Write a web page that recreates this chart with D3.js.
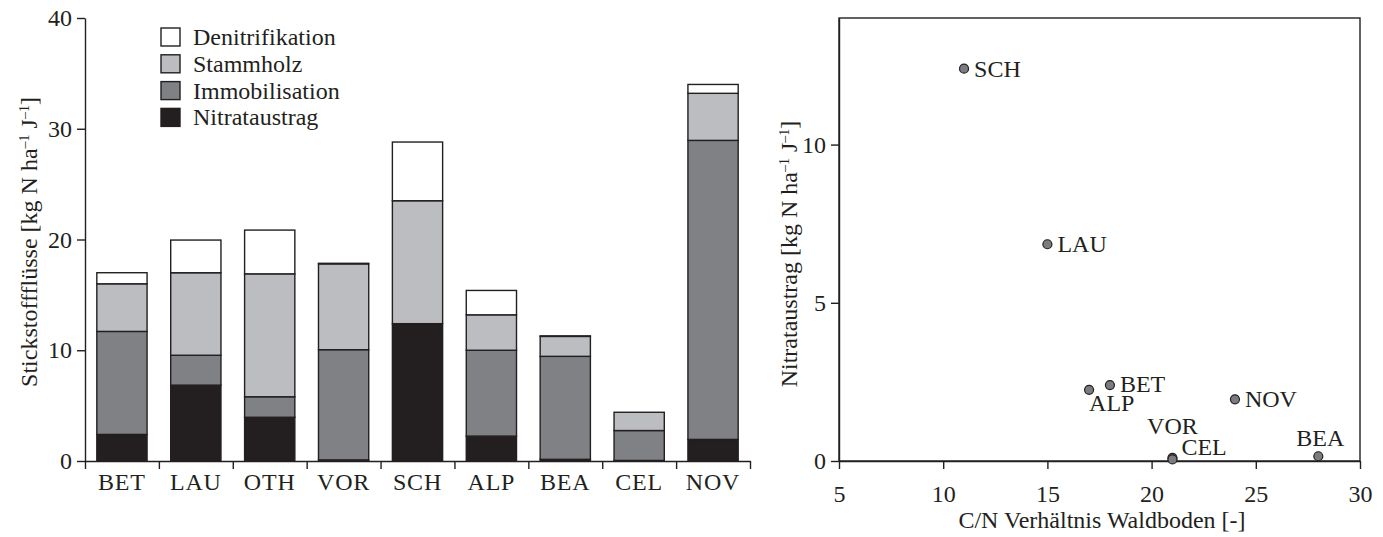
<!DOCTYPE html>
<html>
<head>
<meta charset="utf-8">
<script src="https://cdn.jsdelivr.net/npm/d3@7/dist/d3.min.js"></script>
<style>
  body { margin: 0; background: #fff; }
  svg text { font-family: "Liberation Serif", "Times New Roman", serif; fill: #231f20; }
</style>
</head>
<body>
<div id="chart"></div>
<script>
// sites (same order in both panels)
const sites = ["BET", "LAU", "OTH", "VOR", "SCH", "ALP", "BEA", "CEL", "NOV"];

// nitrogen fluxes [kg N ha-1 J-1], stacked bottom -> top
const nitrataustrag   = [2.4, 6.85, 3.95, 0.1, 12.4, 2.25, 0.15, 0.05, 1.95];
const immobilisation  = [9.3, 2.7, 1.85, 9.95, 0, 7.75, 9.3, 2.7, 27.0];
const stammholz       = [4.3, 7.45, 11.1, 7.75, 11.1, 3.2, 1.8, 1.65, 4.25];
const denitrifikation = [1.0, 2.95, 3.95, 0.05, 5.3, 2.2, 0.05, 0, 0.8];

// C/N ratio of forest soil (no value for OTH)
const cnRatio = [18, 15, null, 21, 11, 17, 28, 21, 24];

const barTicks = [0, 10, 20, 30, 40];
const cnTicks = [5, 10, 15, 20, 25, 30];
const nitratTicks = [0, 5, 10];

const keys = ["Nitrataustrag", "Immobilisation", "Stammholz", "Denitrifikation"];
const colors = { Nitrataustrag: "#231f20", Immobilisation: "#808185", Stammholz: "#bcbdc1", Denitrifikation: "#ffffff" };
const ink = "#231f20";
const fs = 24;

// where the scatter labels sit relative to their point
const labelPos = {
    SCH: [10, 8, "start"], LAU: [10, 8, "start"], BET: [10, 7, "start"],
    ALP: [0, 21, "start"], NOV: [10, 8, "start"], VOR: [0, -24, "middle"],
    CEL: [9, -4, "start"], BEA: [2, -10, "middle"]
};

const W = 1383, H = 537;
const svg = d3.select("#chart").append("svg").attr("width", W).attr("height", H);

function styleAxis(g) {
    g.selectAll("path, line").attr("stroke", ink).attr("stroke-width", 1.4);
    g.selectAll("text").attr("font-size", fs).attr("fill", ink);
}

function supLabel(g, parts) {
    // parts: [text, isSuper]
    parts.forEach(p => {
        g.append("tspan")
            .attr("font-size", p[1] ? 14 : fs)
            .attr("baseline-shift", p[1] ? "60%" : null)
            .text(p[0]);
    });
}

// ---------- LEFT: stacked bars ----------
const left = { x0: 85, x1: 750, y0: 18, y1: 461 };

const rows = sites.map((s, i) => ({
    site: s,
    Nitrataustrag: nitrataustrag[i],
    Immobilisation: immobilisation[i],
    Stammholz: stammholz[i],
    Denitrifikation: denitrifikation[i]
}));

const x = d3.scaleBand().domain(sites).range([left.x0, left.x1]).paddingInner(0.32).paddingOuter(0.16);
const xEdges = d3.scaleLinear().domain([0, sites.length]).range([left.x0, left.x1]);
const y = d3.scaleLinear().domain([0, 40]).range([left.y1, left.y0]);

const series = d3.stack().keys(keys)(rows);

svg.append("g").selectAll("g").data(series).join("g")
    .attr("fill", d => colors[d.key])
    .selectAll("rect").data(d => d).join("rect")
    .attr("x", d => x(d.data.site))
    .attr("y", d => y(d[1]))
    .attr("width", x.bandwidth())
    .attr("height", d => y(d[0]) - y(d[1]))
    .attr("stroke", ink)
    .attr("stroke-width", 1.4);

const yAxisL = svg.append("g")
    .attr("transform", `translate(${left.x0},0)`)
    .call(d3.axisLeft(y).tickValues(barTicks).tickSize(8).tickPadding(5).tickSizeOuter(0));
styleAxis(yAxisL);

// category axis with ticks between the bars
const xAxisL = svg.append("g")
    .attr("transform", `translate(0,${left.y1})`)
    .call(d3.axisBottom(xEdges).tickValues(d3.range(0, sites.length + 1)).tickSize(8).tickFormat("").tickSizeOuter(0));
styleAxis(xAxisL);
xAxisL.selectAll(".cat").data(sites).join("text")
    .attr("class", "cat")
    .attr("x", d => x(d) + x.bandwidth() / 2)
    .attr("y", 28.5)
    .attr("text-anchor", "middle")
    .attr("font-size", fs)
    .attr("letter-spacing", 0.8)
    .attr("fill", ink)
    .text(d => d);

const yLabL = svg.append("text")
    .attr("transform", `translate(37,242) rotate(-90)`)
    .attr("text-anchor", "middle");
supLabel(yLabL, [["Stickstoffflüsse [kg N ha", false], ["–1", true], [" J", false], ["–1", true], ["]", false]]);

// legend
const legend = svg.append("g").attr("transform", "translate(161,28)");
const legItems = legend.selectAll("g").data(keys.slice().reverse()).join("g")
    .attr("transform", (d, i) => `translate(0,${i * 26.8})`);
legItems.append("rect")
    .attr("width", 19).attr("height", 18)
    .attr("fill", d => colors[d])
    .attr("stroke", ink).attr("stroke-width", 1.4);
legItems.append("text")
    .attr("x", 32).attr("y", 17)
    .attr("font-size", fs)
    .text(d => d);

// ---------- RIGHT: scatter ----------
const right = { x0: 839, x1: 1360, y0: 18, y1: 461 };
const sx = d3.scaleLinear().domain([5, 30]).range([right.x0, right.x1]);
const sy = d3.scaleLinear().domain([0, 14]).range([right.y1, right.y0]);

svg.append("rect")
    .attr("x", right.x0).attr("y", right.y0)
    .attr("width", right.x1 - right.x0).attr("height", right.y1 - right.y0)
    .attr("fill", "none").attr("stroke", ink).attr("stroke-width", 1.4);

const xAxisR = svg.append("g")
    .attr("transform", `translate(0,${right.y1})`)
    .call(d3.axisBottom(sx).tickValues(cnTicks).tickSize(8).tickPadding(16).tickSizeOuter(0));
styleAxis(xAxisR);

const yAxisR = svg.append("g")
    .attr("transform", `translate(${right.x0},0)`)
    .call(d3.axisLeft(sy).tickValues(nitratTicks).tickSize(8).tickPadding(5).tickSizeOuter(0));
styleAxis(yAxisR);

svg.append("text")
    .attr("x", 1102)
    .attr("y", 528)
    .attr("text-anchor", "middle")
    .attr("font-size", fs)
    .text("C/N Verhältnis Waldboden [-]");

const yLabR = svg.append("text")
    .attr("transform", `translate(797,254) rotate(-90)`)
    .attr("text-anchor", "middle");
supLabel(yLabR, [["Nitrataustrag [kg N ha", false], ["–1", true], [" J", false], ["–1", true], ["]", false]]);

const pts = sites.map((s, i) => ({ site: s, cn: cnRatio[i], no3: nitrataustrag[i] }))
    .filter(d => d.cn != null);

svg.append("g").selectAll("circle").data(pts).join("circle")
    .attr("cx", d => sx(d.cn))
    .attr("cy", d => sy(d.no3))
    .attr("r", 4.5)
    .attr("fill", "#7b7c80")
    .attr("stroke", ink)
    .attr("stroke-width", 1.2);

svg.append("g").selectAll("text").data(pts).join("text")
    .attr("x", d => sx(d.cn) + labelPos[d.site][0])
    .attr("y", d => sy(d.no3) + labelPos[d.site][1])
    .attr("text-anchor", d => labelPos[d.site][2])
    .attr("font-size", fs)
    .text(d => d.site);
</script>
</body>
</html>
